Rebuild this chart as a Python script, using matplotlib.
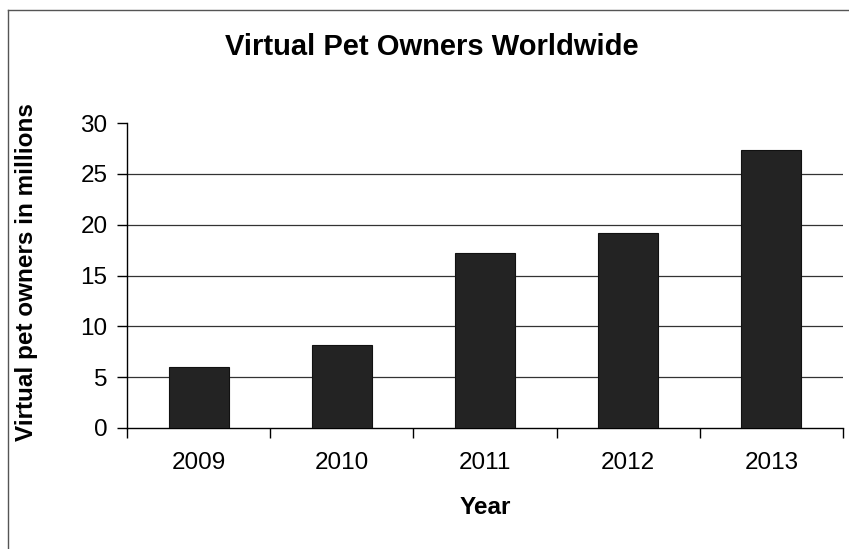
import matplotlib
matplotlib.use('Agg')
import matplotlib.pyplot as plt
from matplotlib.lines import Line2D

# datos
anios = ['2009', '2010', '2011', '2012', '2013']
duenios = [6.0, 8.2, 17.2, 19.2, 27.3]
yticks = [0, 5, 10, 15, 20, 25, 30]

plt.rcParams['font.family'] = ['Liberation Sans', 'DejaVu Sans']

fig = plt.figure(figsize=(8.49, 5.49), dpi=100)
ax = fig.add_axes([127/849, 1 - 428/549, (843 - 127)/849, (428 - 123)/549])

x = list(range(len(anios)))
ax.bar(x, duenios, width=0.42, color='#232323', edgecolor='#111111', linewidth=0.8, zorder=3)

ax.set_xlim(-0.5, len(anios) - 0.5)
ax.set_ylim(0, 30)
ax.set_yticks(yticks)
ax.set_xticks(x)
ax.set_xticklabels(anios)
ax.set_xticks([i - 0.5 for i in range(len(anios) + 1)], minor=True)

ax.tick_params(axis='x', which='major', length=0, pad=17, labelsize=17.5)
ax.tick_params(axis='x', which='minor', length=7, width=1, direction='out')
ax.tick_params(axis='y', length=7, width=1, direction='out', pad=7, labelsize=17.5)

# lineas de grilla horizontales (sin la de 30)
for v in yticks[1:-1]:
    ax.axhline(v, color='#333333', linewidth=0.9, zorder=1)

for lado in ['top', 'right']:
    ax.spines[lado].set_visible(False)
ax.spines['left'].set_linewidth(1)
ax.spines['bottom'].set_linewidth(1)

fig.text(27/849, 1 - 272/549, 'Virtual pet owners in millions', rotation=90, ha='center', va='center',
         fontsize=17.5, fontweight='bold')
fig.text(485/849, 1 - 508/549, 'Year', ha='center', va='center', fontsize=17.5, fontweight='bold')
fig.text(432/849, 1 - 47/549, 'Virtual Pet Owners Worldwide', ha='center', va='center',
         fontsize=21, fontweight='bold')

# borde del grafico
fig.add_artist(Line2D([8/849, 8/849], [0, 1 - 10/549], color='#555555', linewidth=1))
fig.add_artist(Line2D([8/849, 1], [1 - 10/549, 1 - 10/549], color='#555555', linewidth=1))

fig.savefig('out.png', dpi=100)
